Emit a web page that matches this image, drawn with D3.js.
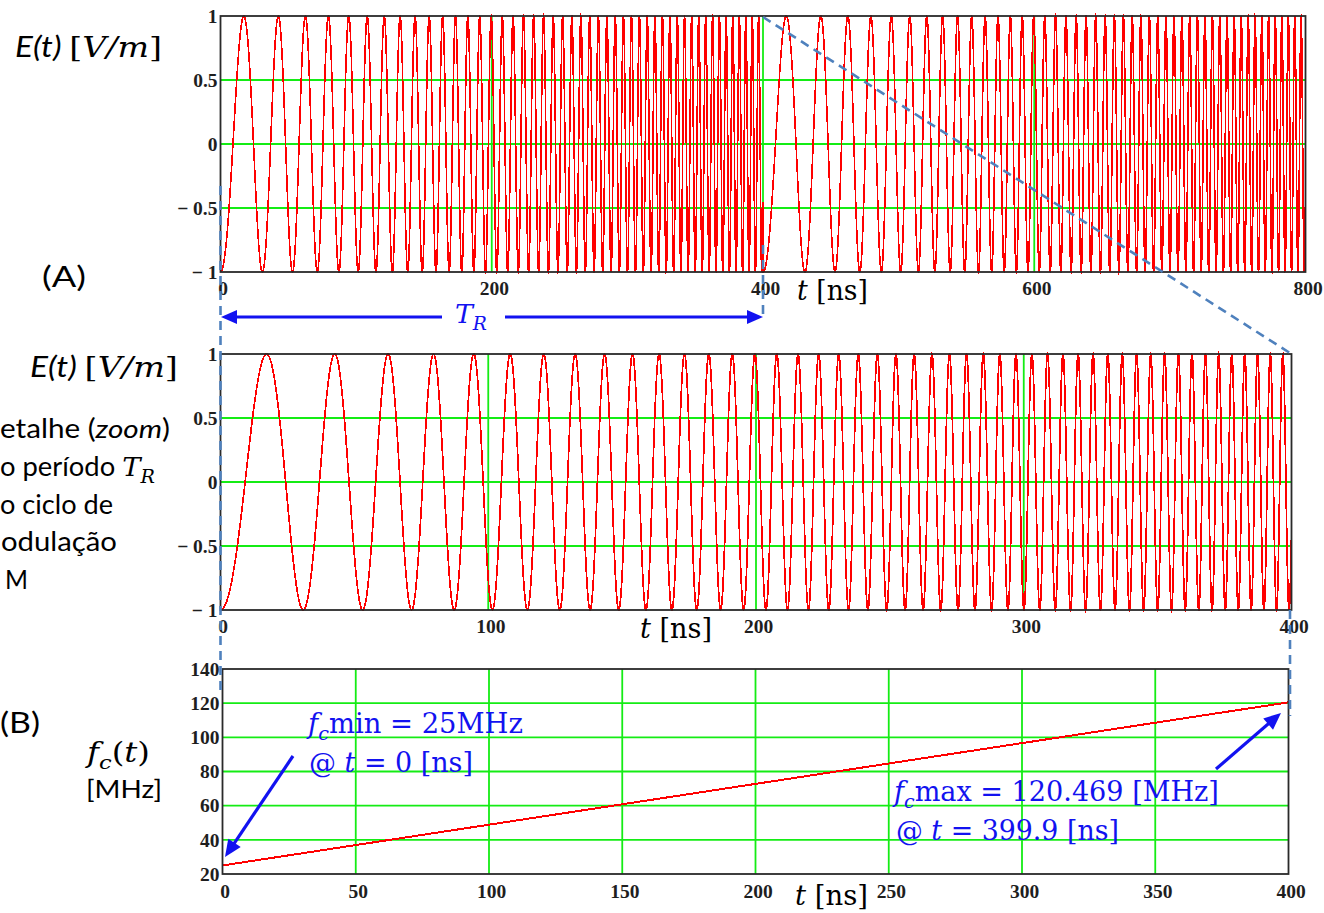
<!DOCTYPE html>
<html><head><meta charset="utf-8">
<script src="https://cdn.jsdelivr.net/npm/d3@7"></script>
<style>body{margin:0;background:#fff;overflow:hidden} svg{display:block}</style>
</head><body><svg id="c" width="1324" height="913"></svg>
<script>
// ---------------- data ----------------
const fcMinMax   = [25, 120.469];      // MHz  (fc min, fc max)
const fcTimes    = [0, 399.9];         // ns   (times of fc min / fc max)
const sampleStep = [0.1];              // ns   sampling step of t
const periodTR   = [400];              // ns   modulation period T_R
const eTicks     = [-1, -0.5, 0, 0.5, 1];
const eTickLabels= ["\u2212 1", "\u2212 0.5", "0", "0.5", "1"];
const eHGrid     = [-0.5, 0, 0.5];
const xTicksFull = [0, 200, 400, 600, 800];
const vGridFull  = [200, 400, 600];
const xTicksZoom = [0, 100, 200, 300, 400];
const vGridZoom  = [100, 200, 300];
const xTicksB    = [0, 50, 100, 150, 200, 250, 300, 350, 400];
const yTicksB    = [20, 40, 60, 80, 100, 120, 140];

// ---------------- derived series ----------------
const fc = d3.scaleLinear().domain(fcTimes).range(fcMinMax);
const nPer = Math.round(fcTimes[1] / sampleStep[0]) + 1;
const periodData = d3.range(nPer).map(i => {
  const t = i * sampleStep[0];
  return [t, -Math.cos(2 * Math.PI * fc(t) * t * 1e-3)];
});
const fullData = [0, 1].flatMap(k => periodData.map(([t, e]) => [t + k * periodTR[0], e]));
const fcData = periodData.map(([t]) => [t, fc(t)]);

// ---------------- drawing ----------------
const svg = d3.select("#c");
const GREEN = "#14ec14", RED = "#ff0000", FRAME = "#2a2a2a", BLUE = "#1212f0", DASH = "#4f81bd";
const TICKFONT = "'Liberation Serif', 'Times New Roman', serif";

function panel(cfg) {
  const x = d3.scaleLinear().domain(cfg.xDomain).range([cfg.left, cfg.right]);
  const y = d3.scaleLinear().domain(cfg.yDomain).range([cfg.bottom, cfg.top]);
  const g = svg.append("g");
  g.selectAll("line.hg").data(cfg.hGrid).join("line").attr("class", "hg")
    .attr("x1", cfg.left).attr("x2", cfg.right).attr("y1", d => y(d)).attr("y2", d => y(d))
    .attr("stroke", GREEN).attr("stroke-width", 1.8);
  g.selectAll("line.vg").data(cfg.vGrid).join("line").attr("class", "vg")
    .attr("y1", cfg.top).attr("y2", cfg.bottom).attr("x1", d => x(d)).attr("x2", d => x(d))
    .attr("stroke", GREEN).attr("stroke-width", 1.8);
  g.append("path").datum(cfg.data)
    .attr("d", d3.line().x(d => x(d[0])).y(d => y(d[1])))
    .attr("fill", "none").attr("stroke", RED).attr("stroke-width", cfg.sw || 1.3)
    .attr("shape-rendering", "crispEdges");
  g.append("rect").attr("x", cfg.left).attr("y", cfg.top)
    .attr("width", cfg.right - cfg.left).attr("height", cfg.bottom - cfg.top)
    .attr("fill", "none").attr("stroke", FRAME).attr("stroke-width", 1.8);
  const ax = g.append("g").attr("transform", `translate(2,${cfg.bottom})`)
    .call(d3.axisBottom(x).tickValues(cfg.xTicks).tickSize(0).tickPadding(cfg.xPad || 9).tickFormat(d => String(d)));
  const ay = g.append("g").attr("transform", `translate(${cfg.left},0)`)
    .call(d3.axisLeft(y).tickValues(cfg.yTicks).tickSize(0).tickPadding(3)
      .tickFormat((d, i) => cfg.yLabels ? cfg.yLabels[i] : String(d)));
  [ax, ay].forEach(a => {
    a.select(".domain").remove();
    a.attr("font-family", TICKFONT).attr("font-size", 19.5).attr("font-weight", "bold");
    a.selectAll("text").attr("fill", "#1e1e1e");
  });
  return { x, y };
}

panel({ left: 220.5, right: 1305.5, top: 16, bottom: 272, xDomain: [0, 800], yDomain: [-1, 1],
  xTicks: xTicksFull, yTicks: eTicks, yLabels: eTickLabels, hGrid: eHGrid, vGrid: vGridFull, data: fullData, sw: 1.6 });
panel({ left: 220.5, right: 1291.5, top: 354, bottom: 610, xDomain: [0, 400], yDomain: [-1, 1],
  xTicks: xTicksZoom, yTicks: eTicks, yLabels: eTickLabels, hGrid: eHGrid, vGrid: vGridZoom, data: periodData, sw: 1.7 });
panel({ left: 222.5, right: 1288.5, top: 669, bottom: 874, xDomain: [0, 400], yDomain: [20, 140],
  xTicks: xTicksB, yTicks: yTicksB, hGrid: yTicksB.slice(1, -1), vGrid: xTicksB.slice(1, -1), data: fcData, sw: 2, xPad: 10 });

// ---------------- text helpers ----------------
const SERIF = "'DejaVu Serif', serif", SANS = "Lato, 'Open Sans', sans-serif";
function rich(x, y, parts, opt) {
  const g = svg.append("g").attr("transform", `translate(${x},${y})`);
  const t = g.append("text").attr("x", 0).attr("y", 0)
    .attr("font-size", opt.size).attr("font-family", opt.family || SERIF).attr("fill", opt.color || "#000")
    .attr("xml:space", "preserve").style("white-space", "pre");
  let shifted = 0;
  parts.forEach(p => {
    const s = t.append("tspan").text(p.t);
    if (p.it) s.attr("font-style", "italic");
    if (p.f) s.attr("font-family", p.f);
    if (p.sub) { s.attr("font-size", opt.size * 0.7).attr("dy", opt.size * 0.25); shifted = opt.size * 0.25; }
    else if (shifted) { s.attr("dy", -shifted); shifted = 0; }
  });
  if (opt.w) {
    const w = t.node().getComputedTextLength();
    let sx = opt.w / w; sx = Math.max(0.8, Math.min(1.25, sx));
    g.attr("transform", `translate(${x},${y}) scale(${sx},1)`);
  }
  return g;
}

// E(t) labels
rich(15, 57, [{ t: "E(t) ", it: true, f: SANS }, { t: "[", f: SERIF }, { t: "V", it: true }, { t: "/", it: true }, { t: "m", it: true }, { t: "]" }], { size: 28, w: 147 });
rich(30, 377, [{ t: "E(t) ", it: true, f: SANS }, { t: "[", f: SERIF }, { t: "V", it: true }, { t: "/", it: true }, { t: "m", it: true }, { t: "]" }], { size: 28, w: 148 });
// panel labels
rich(42, 287, [{ t: "(A)" }], { size: 29, family: SANS, w: 44 });
rich(0, 733, [{ t: "(B)" }], { size: 29, family: SANS, w: 40 });
// axis titles
rich(797, 300, [{ t: "t", it: true }, { t: " [ns]" }], { size: 27, w: 71 });
rich(640, 638, [{ t: "t", it: true }, { t: " [ns]" }], { size: 27, w: 72 });
rich(795, 905, [{ t: "t", it: true }, { t: " [ns]" }], { size: 27, w: 73 });
rich(87, 762, [{ t: "f", it: true }, { t: "c", it: true, sub: true }, { t: "(" }, { t: "t", it: true }, { t: ")" }], { size: 27, w: 63 });
rich(86, 798, [{ t: "[MHz]" }], { size: 25, family: SANS, w: 76 });

// left paragraph (visible part of a text cropped by the left edge)
const para = [
  { parts: [{ t: "etalhe (" }, { t: "zoom", it: true }, { t: ")" }], y: 438, x: 0, w: 170 },
  { parts: [{ t: "o período " }, { t: "T", it: true, f: SERIF }, { t: "R", it: true, sub: true, f: SERIF }], y: 476, x: 0, w: 155 },
  { parts: [{ t: "o ciclo de" }], y: 514, x: 0, w: 113 },
  { parts: [{ t: "odulação" }], y: 551, x: 1, w: 116 },
  { parts: [{ t: "M" }], y: 589, x: 5, w: 23 }
];
para.forEach(p => rich(p.x, p.y, p.parts, { size: 26, family: SANS, w: p.w }));

// T_R double arrow
const arrowY = 317;
function head(x, y, dir, len, hw) {
  const bx = x - Math.cos(dir) * len, by = y - Math.sin(dir) * len;
  const nx = -Math.sin(dir) * hw, ny = Math.cos(dir) * hw;
  return `M${x},${y}L${bx + nx},${by + ny}L${bx - nx},${by - ny}Z`;
}
svg.append("line").attr("x1", 236).attr("x2", 442).attr("y1", arrowY).attr("y2", arrowY).attr("stroke", BLUE).attr("stroke-width", 3);
svg.append("line").attr("x1", 505).attr("x2", 748).attr("y1", arrowY).attr("y2", arrowY).attr("stroke", BLUE).attr("stroke-width", 3);
svg.append("path").attr("d", head(221, arrowY, Math.PI, 16, 7)).attr("fill", BLUE);
svg.append("path").attr("d", head(763, arrowY, 0, 16, 7)).attr("fill", BLUE);
rich(455, 323, [{ t: "T", it: true }, { t: "R", it: true, sub: true }], { size: 26, color: BLUE, w: 32 });

// annotations in panel B
rich(308, 733, [{ t: "f", it: true }, { t: "c", it: true, sub: true }, { t: "min = 25MHz" }], { size: 27, color: BLUE, w: 215 });
rich(309, 772, [{ t: "@ " }, { t: "t", it: true }, { t: " = 0 [ns]" }], { size: 27, color: BLUE, w: 164 });
rich(894, 801, [{ t: "f", it: true }, { t: "c", it: true, sub: true }, { t: "max = 120.469 [MHz]" }], { size: 27, color: BLUE, w: 325 });
rich(896, 840, [{ t: "@ " }, { t: "t", it: true }, { t: " = 399.9 [ns]" }], { size: 27, color: BLUE, w: 223 });

function arrow(x1, y1, x2, y2) {
  const a = Math.atan2(y2 - y1, x2 - x1);
  svg.append("line").attr("x1", x1).attr("y1", y1)
    .attr("x2", x2 - Math.cos(a) * 12).attr("y2", y2 - Math.sin(a) * 12)
    .attr("stroke", BLUE).attr("stroke-width", 3.2);
  svg.append("path").attr("d", head(x2, y2, a, 17, 7.5)).attr("fill", BLUE);
}
arrow(293, 756, 225, 857);
arrow(1216, 769, 1281, 713);

// dashed connector lines
const dash = (pts) => svg.append("path").attr("d", d3.line()(pts)).attr("fill", "none")
  .attr("stroke", DASH).attr("stroke-width", 2.6).attr("stroke-dasharray", "9,6");
dash([[220.5, 186], [220.5, 695]]);
dash([[763, 17], [1291.5, 354]]);
dash([[1290, 610], [1290, 716]]);
dash([[763, 245], [763, 318]]);
</script></body></html>
